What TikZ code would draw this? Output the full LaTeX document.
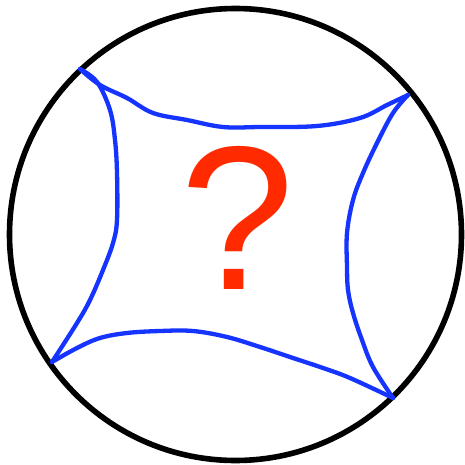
\documentclass[tikz,border=0pt]{standalone}
\usepackage{fontspec}
\setmainfont{Liberation Sans}
\definecolor{geoblue}{RGB}{22,52,255}
\definecolor{qred}{RGB}{255,42,0}
\begin{document}
\begin{tikzpicture}[
  x=1pt,
  y=-1pt,
  rim/.style={draw=black, line width=5.6pt},
  geo/.style={draw=geoblue, line width=4.3pt, line cap=round, line join=round},
  qmark/.style={text=qred, inner sep=0pt, font=\fontsize{205}{205}\selectfont}
]
\useasboundingbox (0,0) rectangle (465,465);

\draw[rim] (235.5,234.5) circle[radius=226];

\coordinate (tl) at (80,69);
\coordinate (tr) at (408,95);
\coordinate (br) at (393,398);
\coordinate (bl) at (52,362);

% top side
\draw[geo] plot[smooth, tension=0.6] coordinates {(tl) (100,85) (127,98) (153,113) (187,120) (223,127) (260,127) (317,126) (360,118) (387,105) (tr)};
% left side
\draw[geo] plot[smooth, tension=0.6] coordinates {(tl) (97,82) (110,110) (115,140) (117,173) (117,220) (113,243) (103,270) (90,300) (77,323) (bl)};
% bottom side
\draw[geo] plot[smooth, tension=0.6] coordinates {(bl) (77,348) (100,338) (127,333) (160,331) (193,331) (227,337) (260,347) (293,358) (323,368) (350,378) (br)};
% right side
\draw[geo] plot[smooth, tension=0.6] coordinates {(tr) (393,113) (377,143) (363,173) (353,200) (347,233) (347,267) (348,290) (353,313) (362,340) (373,367) (br)};

\node[qmark, anchor=base] (q) at (238,289) {?};
\end{tikzpicture}
\end{document}
